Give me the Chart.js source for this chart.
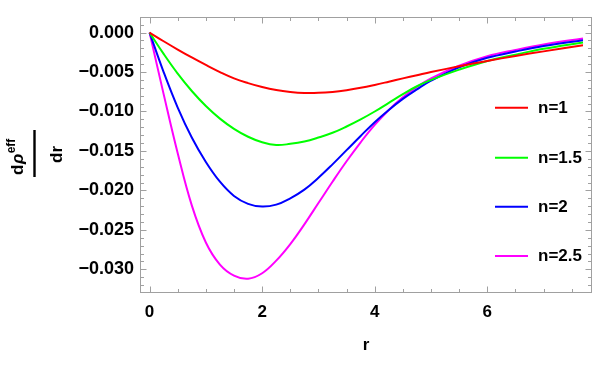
<!DOCTYPE html>
<html><head><meta charset="utf-8">
<script src="https://cdn.jsdelivr.net/npm/chart.js@4.4.0/dist/chart.umd.min.js"></script>
<style>html,body{margin:0;padding:0;background:#fff;}#wrap{width:598px;height:367px;}</style>
</head><body><div id="wrap"><canvas id="c" width="598" height="367"></canvas></div>
<script>
// ---- data ----
const rValues = [0,0.25,0.5,0.75,1,1.25,1.5,1.75,2,2.25,2.5,2.75,3,3.25,3.5,3.75,4,4.25,4.5,4.75,5,5.5,6,6.5,7,7.7];
const n1Values  = [0,-0.00110,-0.00215,-0.00315,-0.00410,-0.00500,-0.00580,-0.00640,-0.00690,-0.00728,-0.00752,-0.00765,-0.00764,-0.00752,-0.00730,-0.00700,-0.00663,-0.00622,-0.00580,-0.00540,-0.00500,-0.00427,-0.00359,-0.00296,-0.00238,-0.00160];
const n15Values = [0,-0.0027,-0.0052,-0.0074,-0.0093,-0.0109,-0.0122,-0.0132,-0.0139,-0.01425,-0.0141,-0.0138,-0.0133,-0.0127,-0.0119,-0.0110,-0.0100,-0.0089,-0.0078,-0.0068,-0.0060,-0.0047,-0.0036,-0.0028,-0.00205,-0.00125];
const n2Values  = [0,-0.0050,-0.0095,-0.0133,-0.0164,-0.0189,-0.0207,-0.0217,-0.02205,-0.0218,-0.0210,-0.0199,-0.0184,-0.0167,-0.0149,-0.0131,-0.01135,-0.0098,-0.0084,-0.0072,-0.0061,-0.0044,-0.0032,-0.0024,-0.0017,-0.00096];
const n25Values = [0,-0.0078,-0.0153,-0.0219,-0.0266,-0.0294,-0.0308,-0.0312,-0.0305,-0.0289,-0.0268,-0.0243,-0.0216,-0.0189,-0.0163,-0.0139,-0.0117,-0.0098,-0.0082,-0.0069,-0.0058,-0.0042,-0.0030,-0.0022,-0.0015,-0.00075];
const seriesLabels = ['n=1','n=1.5','n=2','n=2.5'];
const seriesColors = ['#ff0000','#00ff00','#0000ff','#ff00ff'];
const xTickValues = [0,2,4,6];
const yTickValues = [0,-0.005,-0.010,-0.015,-0.020,-0.025,-0.030];
const xAxisTitle = 'r';

const seriesValues = [n1Values,n15Values,n2Values,n25Values];
const FONT = '"Liberation Sans", Arial, sans-serif';
const FRAME = '#a0a0a0';

const framePlugin = {
  id:'frame',
  beforeDatasetsDraw(chart){
    const ctx = chart.ctx, a = chart.chartArea, xs = chart.scales.x, ys = chart.scales.y;
    ctx.save();
    ctx.strokeStyle = FRAME; ctx.lineWidth = 1;
    const L = Math.round(a.left)+0.5, R = Math.round(a.right)-0.5, T = Math.round(a.top)+0.5, B = Math.round(a.bottom)-0.5;
    ctx.strokeRect(L, T, R-L, B-T);
    ctx.beginPath();
    for (let k = 0; k <= 16; k++) {
      const v = k*0.5; if (v > xs.max) break;
      const major = (k % 4 === 0);
      const len = major ? 6 : 3.5;
      const px = Math.round(xs.getPixelForValue(v))+0.5;
      ctx.moveTo(px, B); ctx.lineTo(px, B-len);
      ctx.moveTo(px, T); ctx.lineTo(px, T+len);
    }
    for (let k = -33; k <= 2; k++) {
      const v = k*0.001;
      const major = (k % 5 === 0);
      const len = major ? 6 : 3.5;
      const py = Math.round(ys.getPixelForValue(v))+0.5;
      if (py < T || py > B) continue;
      ctx.moveTo(L, py); ctx.lineTo(L+len, py);
      ctx.moveTo(R, py); ctx.lineTo(R-len, py);
    }
    ctx.stroke();
    ctx.restore();
  },
  afterDraw(chart){
    const ctx = chart.ctx, a = chart.chartArea;
    ctx.save();
    // legend
    const rows = [107.7,157.7,206.7,256];
    chart.data.datasets.forEach((ds,i)=>{
      ctx.strokeStyle = ds.borderColor; ctx.lineWidth = 2;
      ctx.beginPath(); ctx.moveTo(495, rows[i]); ctx.lineTo(528, rows[i]); ctx.stroke();
      ctx.fillStyle = '#000'; ctx.font = 'bold 17px ' + FONT; ctx.textBaseline = 'middle'; ctx.textAlign='left';
      ctx.fillText(ds.label, 538, rows[i]+0.5);
    });
    // x title
    ctx.fillStyle = '#000'; ctx.font = 'bold 17px ' + FONT; ctx.textAlign = 'center'; ctx.textBaseline = 'alphabetic';
    ctx.fillText(xAxisTitle, (a.left+a.right)/2, 350);
    // y title: d rho^eff / dr, rotated
    ctx.translate(34.5, 153.5);
    ctx.rotate(-Math.PI/2);
    ctx.fillStyle = '#000';
    ctx.fillRect(-23.5, -1.2, 47, 2.4);
    ctx.textAlign = 'left'; ctx.textBaseline = 'alphabetic';
    ctx.font = 'bold 17px ' + FONT;
    let x0 = -21.5;
    ctx.fillText('d', x0, -11.5);
    x0 += ctx.measureText('d').width + 0.5;
    ctx.font = 'italic bold 17px ' + FONT;
    ctx.fillText('ρ', x0, -11.5);
    x0 += ctx.measureText('ρ').width + 0.5;
    ctx.font = 'bold 12px ' + FONT;
    ctx.fillText('eff', x0, -19.5);
    ctx.font = 'bold 17px ' + FONT;
    ctx.textAlign = 'center';
    ctx.fillText('dr', -1, 27.5);
    ctx.restore();
  }
};

new Chart(document.getElementById('c'), {
  type: 'line',
  data: {
    datasets: seriesValues.map((vals,i)=>({
      label: seriesLabels[i],
      data: rValues.map((r,j)=>({x:r, y:vals[j]})),
      borderColor: seriesColors[i],
      backgroundColor: seriesColors[i],
      borderWidth: 2,
      pointRadius: 0,
      fill: false,
      tension: 0.4
    }))
  },
  options: {
    responsive: false,
    animation: false,
    devicePixelRatio: 1,
    layout: { padding: { top: 13, right: 6, left: 0, bottom: 0 } },
    plugins: { legend: { display: false }, tooltip: { enabled: false } },
    scales: {
      x: {
        type: 'linear', min: -0.17, max: 7.86,
        afterBuildTicks: s => { s.ticks = xTickValues.map(v=>({value:v})); },
        afterFit: s => { s.height = 74; },
        grid: { display: false, drawTicks: false },
        border: { display: false },
        ticks: { color: '#000', font: { family: FONT, size: 17, weight: 'bold' }, padding: 9, maxRotation: 0,
                 callback: v => String(v) }
      },
      y: {
        type: 'linear', min: -0.033, max: 0.002,
        afterBuildTicks: s => { s.ticks = yTickValues.map(v=>({value:v})); },
        afterFit: s => { s.width = 140; },
        grid: { display: false, drawTicks: false },
        border: { display: false },
        ticks: { color: '#000', font: { family: FONT, size: 18, weight: 'bold' }, padding: 6,
                 callback: v => (v < -1e-9 ? '\u2212' : '') + Math.abs(v).toFixed(3) }
      }
    }
  },
  plugins: [framePlugin]
});
</script>
</body></html>
